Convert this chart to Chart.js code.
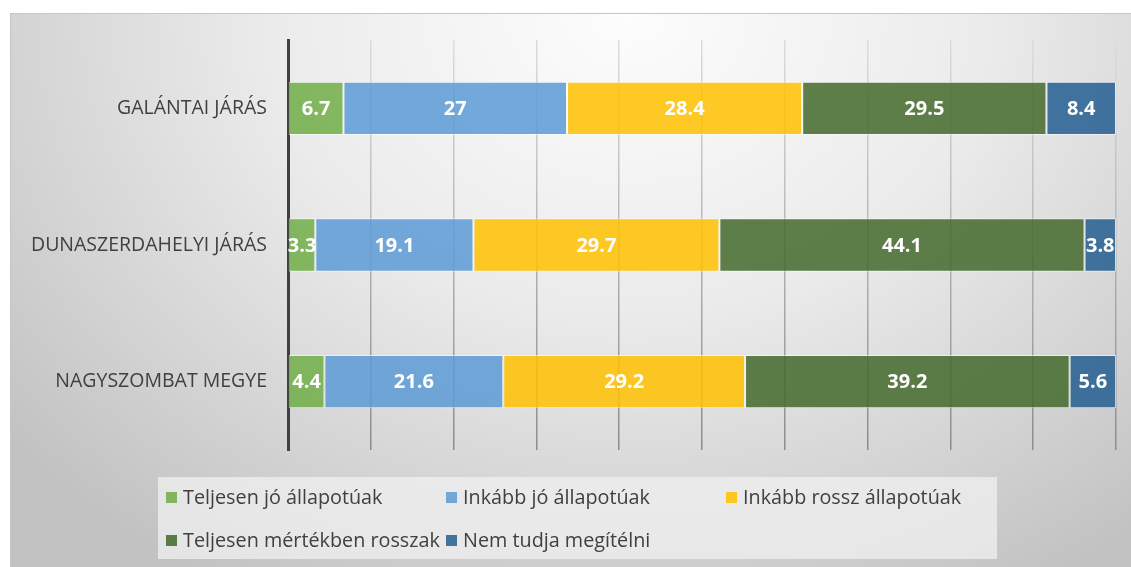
<!DOCTYPE html>
<html>
<head>
<meta charset="utf-8">
<script src="https://cdn.jsdelivr.net/npm/chart.js@4.4.1/dist/chart.umd.min.js"></script>
<style>
    html, body { margin: 0; padding: 0; background: #fff; }
    #wrap { position: relative; width: 1131px; height: 567px; overflow: hidden; }
    #panel {
        position: absolute; left: 10px; top: 13px; right: 0; bottom: 0;
        border-top: 1px solid #c6c6c6; border-left: 1px solid #c6c6c6;
        background: radial-gradient(ellipse 72% 120% at 55% 0%, #fdfdfd 0%, #ebebeb 45%, #c2c2c2 100%);
    }
    #chart { position: absolute; left: 0; top: 0; }
</style>
</head>
<body>
<div id="wrap">
    <div id="panel"></div>
    <canvas id="chart" width="1131" height="567"></canvas>
</div>
<script>
// DATA
const regions = ['GALÁNTAI JÁRÁS', 'DUNASZERDAHELYI JÁRÁS', 'NAGYSZOMBAT MEGYE']
const seriesNames = [
    'Teljesen jó állapotúak',
    'Inkább jó állapotúak',
    'Inkább rossz állapotúak',
    'Teljesen mértékben rosszak',
    'Nem tudja megítélni',
]
const teljesenJo = [6.7, 3.3, 4.4]
const inkabbJo = [27, 19.1, 21.6]
const inkabbRossz = [28.4, 29.7, 29.2]
const teljesenRossz = [29.5, 44.1, 39.2]
const nemTudja = [8.4, 3.8, 5.6]
const seriesValues = [teljesenJo, inkabbJo, inkabbRossz, teljesenRossz, nemTudja]
const seriesColors = [
    'rgba(112,173,71,0.85)',
    'rgba(91,155,213,0.85)',
    'rgba(255,192,0,0.85)',
    'rgba(67,104,43,0.85)',
    'rgba(37,94,145,0.85)',
]
const xTicks = { min: 0, max: 100, step: 10 }

const FONT = '"Open Sans", "Noto Sans", sans-serif'


// PLUGINS
// white numbers centred in each segment
const valueLabels = {
    id: 'valueLabels',
    afterDatasetsDraw(chart) {
        const ctx = chart.ctx
        ctx.save()
        ctx.fillStyle = '#fff'
        ctx.font = 'bold 20px ' + FONT
        ctx.textAlign = 'center'
        ctx.textBaseline = 'middle'
        chart.data.datasets.forEach((ds, i) => {
            chart.getDatasetMeta(i).data.forEach((bar, j) => {
                const p = bar.getCenterPoint()
                ctx.fillText(String(ds.data[j]), p.x, p.y + 1)
            })
        })
        ctx.restore()
    }
}

// legend in a light box, laid out in columns like the office chart
const boxLegend = {
    id: 'boxLegend',
    afterDraw(chart, args, opts) {
        const ctx = chart.ctx
        ctx.save()
        ctx.fillStyle = 'rgba(240,240,240,0.75)'
        ctx.fillRect(opts.x, opts.y, opts.w, opts.h)
        ctx.font = '19.8px ' + FONT
        ctx.textBaseline = 'middle'
        ctx.textAlign = 'left'
        chart.data.datasets.forEach((ds, i) => {
            const col = i % opts.cols, row = Math.floor(i / opts.cols)
            const x = opts.x + 8 + col * opts.colW
            const y = opts.y + 20 + row * opts.rowH
            ctx.fillStyle = ds.backgroundColor
            ctx.fillRect(x, y - 5, 11, 11)
            ctx.fillStyle = '#404040'
            ctx.fillText(ds.label, x + 17, y + 1)
        })
        ctx.restore()
    }
}


// CHART
const gridColor = (c) => {
    const a = c.chart.chartArea
    if (!a) return '#bbb'
    const g = c.chart.ctx.createLinearGradient(0, a.top, 0, a.bottom)
    g.addColorStop(0, '#dcdcdc')
    g.addColorStop(1, '#8c8c8c')
    return g
}

new Chart(document.getElementById('chart'), {
    type: 'bar',
    data: {
        labels: regions,
        datasets: seriesNames.map((name, i) => ({
            label: name,
            data: seriesValues[i],
            backgroundColor: seriesColors[i],
            borderColor: 'rgba(255,255,255,0.55)',
            borderWidth: 1,
            borderSkipped: false,
            barPercentage: 0.39,
            categoryPercentage: 1,
        }))
    },
    options: {
        indexAxis: 'y',
        responsive: false,
        animation: false,
        layout: { padding: { left: 0, right: 15, top: 40, bottom: 117 } },
        scales: {
            x: {
                stacked: true,
                min: xTicks.min, max: xTicks.max,
                ticks: { display: false, stepSize: xTicks.step },
                grid: { color: gridColor, lineWidth: 1.5, drawTicks: false },
                border: { display: false },
            },
            y: {
                stacked: true,
                ticks: { color: '#404040', font: { family: FONT, size: 19.5 }, padding: 21 },
                grid: { display: false, drawTicks: false },
                border: { display: true, color: '#404040', width: 3 },
                afterFit: (scale) => { scale.width = 288 },
            }
        },
        plugins: {
            legend: { display: false },
            tooltip: { enabled: false },
            boxLegend: { x: 158, y: 477, w: 839, h: 82, cols: 3, colW: 280, rowH: 43 },
        }
    },
    plugins: [valueLabels, boxLegend]
})
</script>
</body>
</html>
